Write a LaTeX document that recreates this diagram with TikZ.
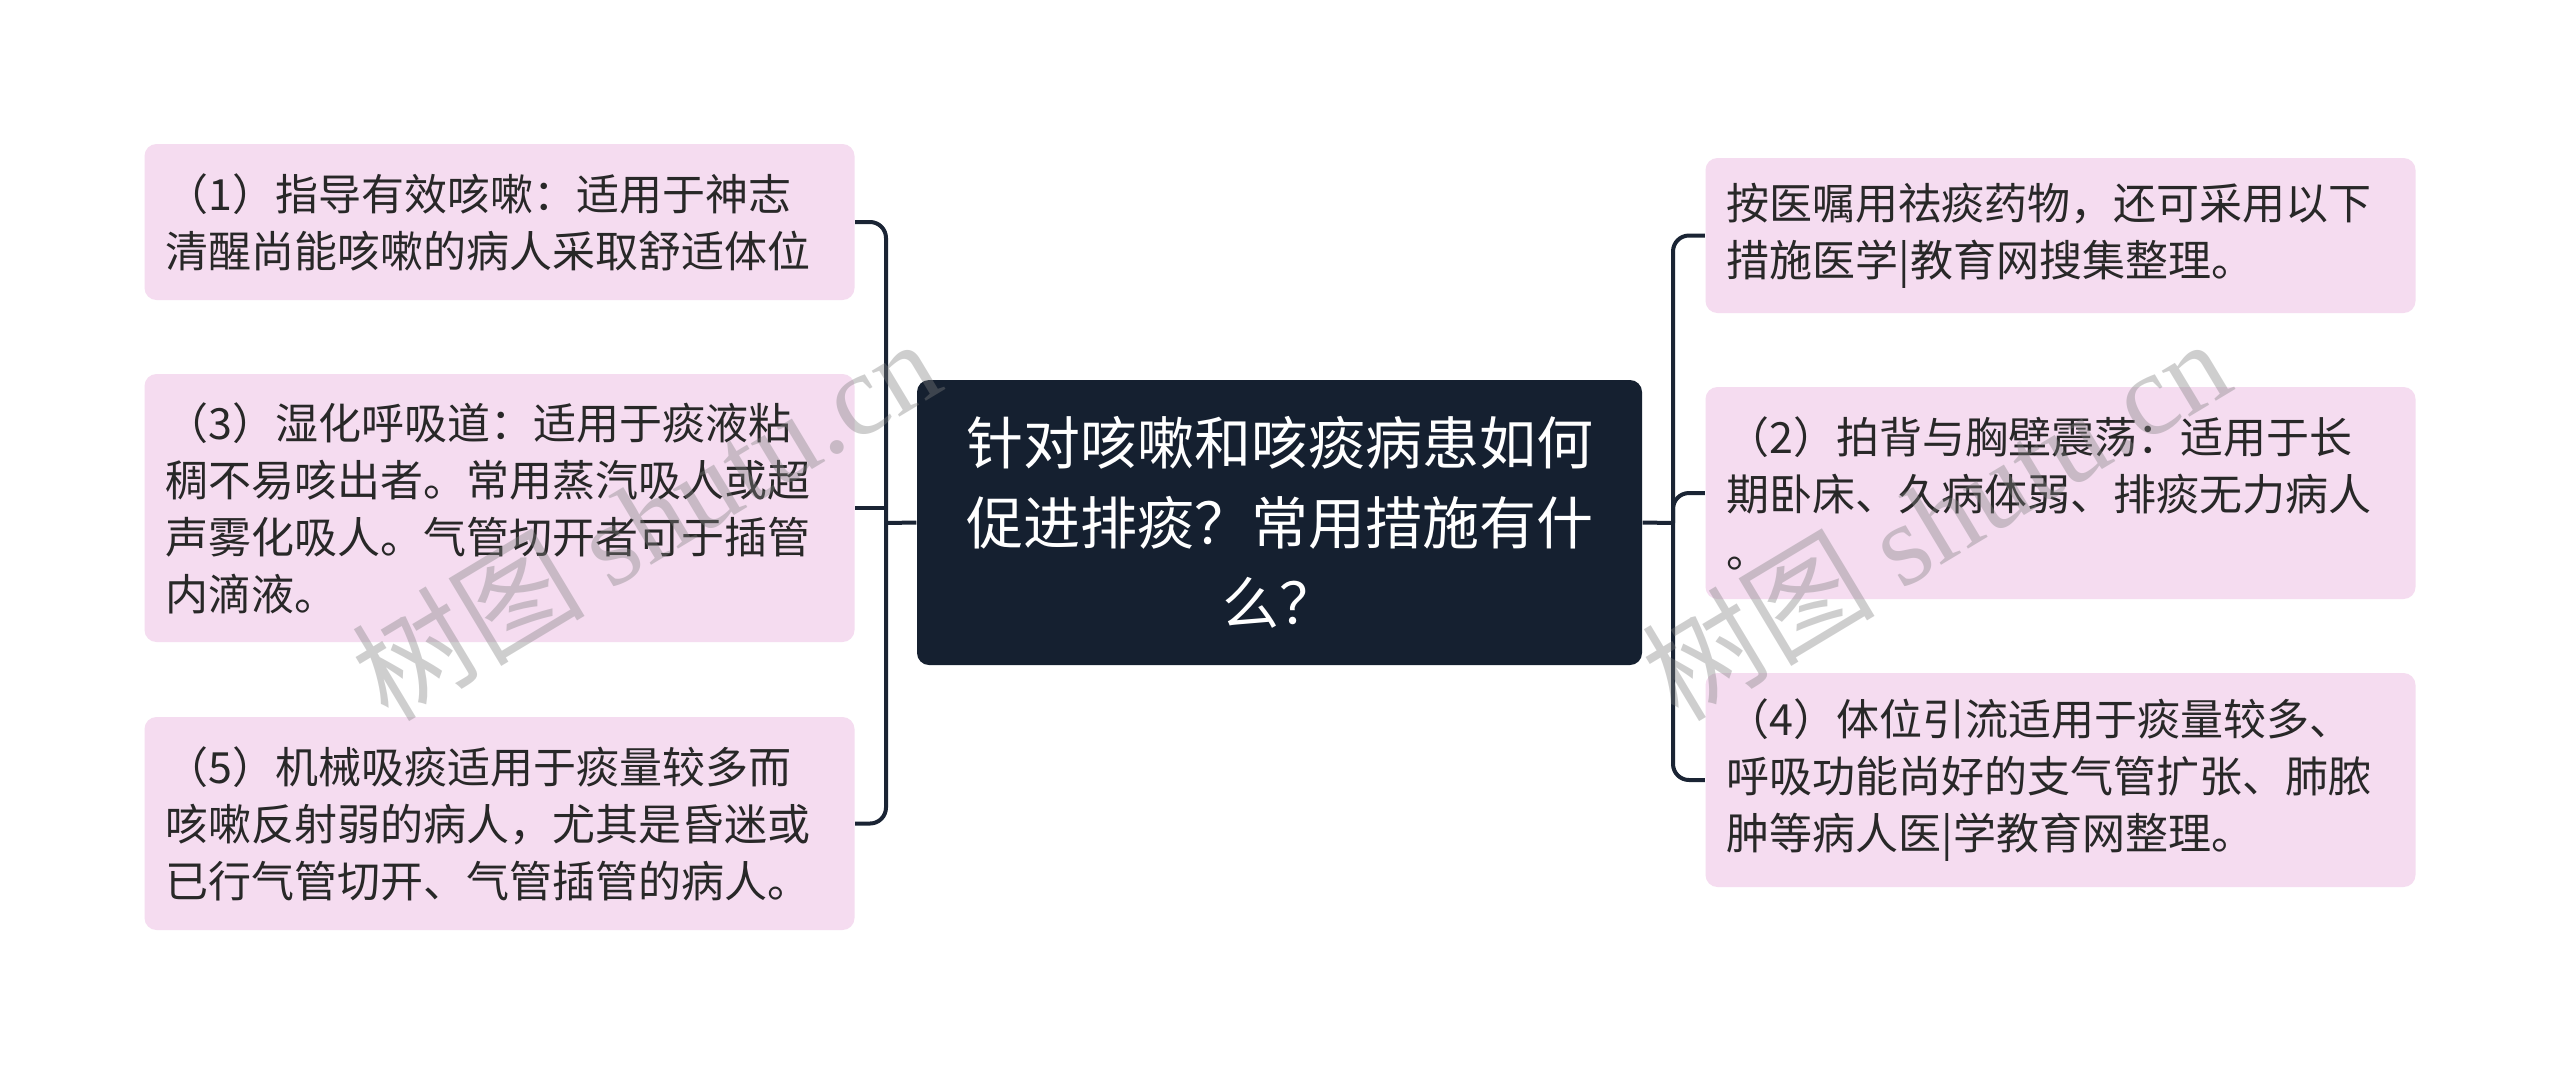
\documentclass[tikz,border=0pt]{standalone}
\usepackage{fontspec}
\setmainfont{Noto Sans CJK SC}
\newfontfamily\wmcjk{Noto Sans CJK SC}
\newfontfamily\wmlat{Liberation Serif}
\definecolor{leafpink}{RGB}{245,220,240}
\definecolor{navy}{RGB}{21,32,48}
\definecolor{linecol}{RGB}{26,36,52}
\definecolor{textdark}{RGB}{40,40,40}
\tikzset{
  leaf/.style={fill=leafpink, rounded corners=3.6pt, text=textdark, align=left,
    anchor=center, inner xsep=6.3pt, inner ysep=0pt,
    font=\fontsize{12.9pt}{17.1pt}\selectfont, text width=200.4pt, minimum width=213pt},
  root/.style={fill=navy, rounded corners=3.6pt, text=white, align=center,
    anchor=center, inner xsep=9.75pt, inner ysep=0pt,
    font=\fontsize{17.1pt}{24pt}\selectfont, text width=198pt, minimum width=217.5pt,
    minimum height=85.5pt},
  conn/.style={draw=linecol, line width=1.2pt},
  wm/.style={text=gray, text opacity=0.38, font=\fontsize{35pt}{35pt}\selectfont, anchor=center}
}
\begin{document}
\begin{tikzpicture}[x=0.3pt,y=-0.3pt]
\useasboundingbox (0,0) rectangle (2560,1075);
\fill[white] (0,0) rectangle (2560,1075);

\node[root] (c) at (1279.5,522.5) {针对咳嗽和咳痰病患如何\\促进排痰？常用措施有什\\么？};

\node[leaf, minimum height=46.8pt] (b1) at (499.5,222) {（1）指导有效咳嗽：适用于神志\\清醒尚能咳嗽的病人采取舒适体位};
\node[leaf, minimum height=80.4pt] (b3) at (499.5,508) {（3）湿化呼吸道：适用于痰液粘\\稠不易咳出者。常用蒸汽吸人或超\\声雾化吸人。气管切开者可于插管\\内滴液。};
\node[leaf, minimum height=63.9pt] (b5) at (499.5,823.5) {（5）机械吸痰适用于痰量较多而\\咳嗽反射弱的病人，尤其是昏迷或\\已行气管切开、气管插管的病人。};

\node[leaf, minimum height=46.5pt] (ra) at (2060.5,235.5) {按医嘱用祛痰药物，还可采用以下\\措施医学|教育网搜集整理。};
\node[leaf, minimum height=63.6pt] (r2) at (2060.5,493) {（2）拍背与胸壁震荡：适用于长\\期卧床、久病体弱、排痰无力病人\\。};
\node[leaf, minimum height=64.2pt] (r4) at (2060.5,780) {（4）体位引流适用于痰量较多、\\呼吸功能尚好的支气管扩张、肺脓\\肿等病人医|学教育网整理。};

\coordinate (L) at (886,523);
\coordinate (R) at (1673,523);

\draw[conn, rounded corners=4.8pt] (b1.east) -| (L) |- (b5.east);
\draw[conn] (b3.east) -- (b3.east -| L);
\draw[conn] (c.west) -- (L);

\draw[conn, rounded corners=4.8pt] (ra.west) -| (R) |- (r4.west);
\draw[conn, rounded corners=4.8pt] (R) |- (r2.west);
\draw[conn] (c.east) -- (R);

\node[wm, rotate=31] (wm1) at (645,518) {{\wmcjk 树图} {\wmlat shutu.cn}};
\node[wm, rotate=31] (wm2) at (1935,518) {{\wmcjk 树图} {\wmlat shutu.cn}};
\end{tikzpicture}
\end{document}
